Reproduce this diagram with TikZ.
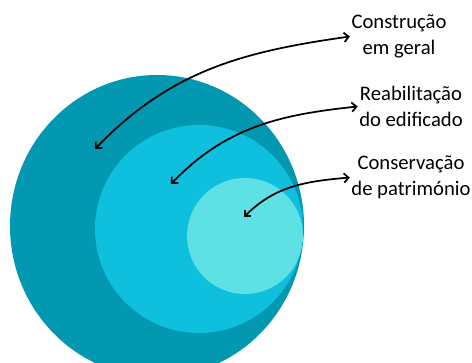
\documentclass[tikz,border=0pt]{standalone}
\usepackage{fontspec}
\setmainfont{Carlito}
\usetikzlibrary{arrows.meta}

\definecolor{tealdark}{RGB}{2,152,178}
\definecolor{tealmid}{RGB}{14,192,222}
\definecolor{teallight}{RGB}{94,225,229}

\begin{document}
\begin{tikzpicture}[x=0.75pt,y=0.75pt,
  every node/.style={font=\fontsize{15.5}{19.5}\selectfont, align=center, inner sep=1pt},
  pointer/.style={line width=1.3pt, {Straight Barb[length=3.5pt,width=7pt]}-{Straight Barb[length=3.5pt,width=7pt]}}]
  \useasboundingbox (0,0) rectangle (472,363);
  \newcommand{\disc}[4]{
    \fill[#4] (#1) ellipse [x radius=#2, y radius=#3];
  }
  \begin{scope}
    \clip (0,0) rectangle (472,363);
    \disc{157,137}{147}{151}{tealdark}
    \disc{199,134}{104}{104}{tealmid}
    \disc{245,127}{58}{58}{teallight}
  \end{scope}
  % labels
  \node (geral) at (399,326.5) {Construção\\em geral};
  \node (reab) at (411,256.5) {Reabilitação\\do edificado};
  \node (cons) at (411,185.5) {Conservação\\de património};
  % points inside the discs
  \coordinate (pgeral) at (95,214);
  \coordinate (preab) at (171,179);
  \coordinate (pcons) at (244,146);
  \draw[pointer] (pgeral) to[out=46,in=188] (geral.west);
  \draw[pointer] (preab) to[out=46,in=186] (reab.west);
  \draw[pointer] (pcons) to[out=45,in=185] (cons.west);
\end{tikzpicture}
\end{document}
